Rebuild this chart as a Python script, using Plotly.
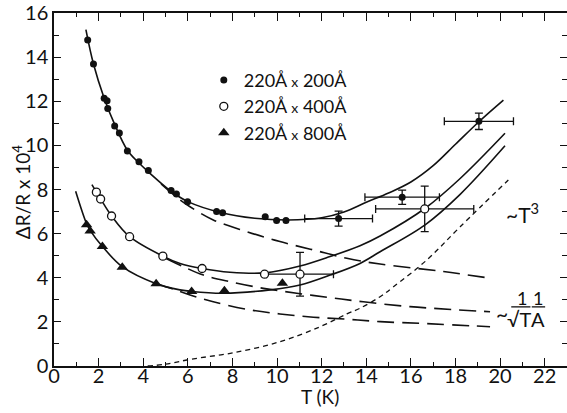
import plotly.graph_objects as go

# ---------------- data ----------------
# 220Å x 200Å (filled circles)
t_200 = [1.51, 1.77, 2.25, 2.38, 2.41, 2.72, 2.93, 3.29, 3.81, 4.23, 5.25, 5.49, 5.99, 7.29, 7.56, 9.47, 9.98, 10.40]
r_200 = [14.78, 13.69, 12.14, 12.02, 11.67, 10.88, 10.56, 9.74, 9.26, 8.86, 7.95, 7.80, 7.45, 7.00, 6.95, 6.76, 6.60, 6.60]
t_200_eb = [12.76, 15.61, 19.05]
r_200_eb = [6.68, 7.65, 11.09]
dt_200_eb = [1.52, 1.67, 1.55]
dr_200_eb = [0.34, 0.32, 0.37]

# 220Å x 400Å (open circles)
t_400 = [1.90, 2.09, 2.58, 3.39, 4.88, 6.64, 9.44]
r_400 = [7.88, 7.57, 6.80, 5.86, 4.98, 4.42, 4.16]
t_400_eb = [11.03, 16.62]
r_400_eb = [4.16, 7.12]
dt_400_eb = [1.50, 2.20]
dr_400_eb = [0.99, 1.03]

# 220Å x 800Å (filled triangles)
t_800 = [1.46, 1.62, 2.17, 3.06, 4.58, 6.17, 7.64, 10.24]
r_800 = [6.40, 6.12, 5.42, 4.48, 3.73, 3.38, 3.41, 3.75]

# solid fitted curves
fit_200_t = [1.43, 1.77, 2.25, 2.72, 3.29, 3.81, 4.23, 5.25, 6.0, 7.5, 9.0, 10.5, 12.0, 13.0, 14.0, 15.0, 16.0, 17.0, 18.0, 19.05, 20.15]
fit_200_r = [15.25, 13.69, 12.14, 10.95, 9.78, 9.20, 8.80, 7.92, 7.45, 6.95, 6.70, 6.62, 6.72, 6.98, 7.42, 7.84, 8.34, 9.08, 10.05, 11.07, 12.05]
fit_400_t = [1.70, 1.90, 2.09, 2.58, 3.39, 4.88, 5.65, 6.64, 7.89, 9.46, 11.03, 12.38, 13.72, 14.62, 16.64, 18.21, 20.22]
fit_400_r = [8.22, 7.88, 7.57, 6.80, 5.86, 4.98, 4.65, 4.42, 4.25, 4.22, 4.53, 4.96, 5.45, 5.89, 7.15, 8.50, 10.55]
fit_800_t = [0.97, 1.46, 1.62, 2.17, 3.06, 4.58, 5.65, 6.17, 7.59, 9.69, 11.03, 12.38, 13.72, 14.62, 16.64, 18.21, 20.22]
fit_800_r = [7.92, 6.45, 6.15, 5.42, 4.50, 3.73, 3.45, 3.38, 3.30, 3.45, 3.67, 4.12, 4.65, 5.18, 6.40, 7.78, 9.98]

# long-dashed ~ 1/sqrt(T) 1/A contributions
dash_200_t = [4.8, 5.5, 6.10, 7.14, 8.64, 10.13, 11.63, 13.13, 14.62, 17.46, 19.55]
dash_200_r = [8.25, 7.65, 7.22, 6.62, 6.09, 5.64, 5.26, 4.88, 4.62, 4.28, 3.98]
dash_400_t = [5.0, 5.8, 6.70, 7.89, 9.39, 10.88, 12.38, 13.87, 15.96, 19.55]
dash_400_r = [4.88, 4.50, 4.12, 3.82, 3.52, 3.30, 3.10, 2.91, 2.69, 2.46]
dash_800_t = [4.6, 5.3, 6.10, 7.14, 8.64, 10.13, 11.63, 13.13, 14.62, 16.71, 19.55]
dash_800_r = [3.73, 3.50, 3.22, 2.91, 2.57, 2.36, 2.21, 2.12, 2.01, 1.92, 1.78]

# short-dashed ~ T^3 contribution
t3_t = [4.2, 5.0, 6.1, 8.04, 10.13, 11.93, 13.13, 13.72, 14.62, 15.22, 16.71, 18.21, 20.37]
t3_r = [0.0, 0.08, 0.30, 0.60, 1.10, 1.78, 2.36, 2.62, 3.14, 3.59, 4.80, 6.31, 8.43]

legend_names = ["220Å <span style='font-size:14px'>x</span> 200Å",
                "220Å <span style='font-size:14px'>x</span> 400Å",
                "220Å <span style='font-size:14px'>x</span> 800Å"]

x_ticks = list(range(0, 23, 2))
y_ticks = list(range(0, 17, 2))

# ---------------- figure ----------------
INK = "#111111"
FONT = "Lato"
fig = go.Figure()

for tt, rr in [(fit_200_t, fit_200_r), (fit_400_t, fit_400_r), (fit_800_t, fit_800_r)]:
    fig.add_trace(go.Scatter(x=tt, y=rr, mode="lines", showlegend=False, hoverinfo="skip",
                             line=dict(color=INK, width=1.6, shape="spline", smoothing=1.0)))
for tt, rr in [(dash_200_t, dash_200_r), (dash_400_t, dash_400_r), (dash_800_t, dash_800_r)]:
    fig.add_trace(go.Scatter(x=tt, y=rr, mode="lines", showlegend=False, hoverinfo="skip",
                             line=dict(color=INK, width=1.6, dash="17px,8px", shape="spline", smoothing=1.0)))
fig.add_trace(go.Scatter(x=t3_t, y=t3_r, mode="lines", showlegend=False, hoverinfo="skip",
                         line=dict(color=INK, width=1.3, dash="5px,4px", shape="spline", smoothing=1.0)))

err_style = dict(type="data", color=INK, thickness=1.3, width=4)

# error-bar points
fig.add_trace(go.Scatter(x=t_200_eb, y=r_200_eb, mode="markers", showlegend=False,
                         marker=dict(symbol="circle", size=7, color=INK),
                         error_x=dict(array=dt_200_eb, **err_style),
                         error_y=dict(array=dr_200_eb, **err_style)))
fig.add_trace(go.Scatter(x=t_400_eb, y=r_400_eb, mode="markers", showlegend=False,
                         marker=dict(symbol="circle", size=8, color="white", line=dict(color=INK, width=1.3)),
                         error_x=dict(array=dt_400_eb, **err_style),
                         error_y=dict(array=dr_400_eb, **err_style)))

# main series
fig.add_trace(go.Scatter(x=t_200, y=r_200, mode="markers", name=legend_names[0],
                         marker=dict(symbol="circle", size=7, color=INK)))
fig.add_trace(go.Scatter(x=t_400, y=r_400, mode="markers", name=legend_names[1],
                         marker=dict(symbol="circle", size=8, color="white", line=dict(color=INK, width=1.3))))
fig.add_trace(go.Scatter(x=t_800, y=r_800, mode="markers", name=legend_names[2],
                         marker=dict(symbol="triangle-up", size=10, color=INK)))

axis_common = dict(showgrid=False, zeroline=False, showline=True, linecolor=INK, linewidth=1.5,
                   ticks="inside", tickcolor=INK, tickwidth=1.3, mirror="allticks", automargin=False,
                   tickfont=dict(family=FONT, size=20, color=INK))
fig.update_xaxes(range=[0, 23], tickvals=x_ticks, ticklen=8, ticklabelstandoff=-9,
                 minor=dict(dtick=1, ticks="inside", ticklen=4, tickcolor=INK, tickwidth=1.2),
                 **axis_common)
fig.update_yaxes(range=[0, 16], tickvals=y_ticks, ticklen=7,
                 minor=dict(dtick=1, ticks="inside", ticklen=5, tickcolor=INK, tickwidth=1.2),
                 **axis_common)

ann_font = dict(family=FONT, size=21, color=INK)
annotations = [
    dict(text="T (K)", xref="paper", yref="paper", x=0.5185, y=-0.086, xanchor="center", yanchor="middle",
         showarrow=False, font=dict(family=FONT, size=19, color=INK)),
    dict(text="ΔR/R x 10<sup>4</sup>", xref="paper", yref="paper", x=-0.062, y=0.493, textangle=-90,
         xanchor="center", yanchor="middle", showarrow=False, font=dict(family=FONT, size=19, color=INK)),
    dict(text="~T<sup>3</sup>", x=21.0, y=6.95, xanchor="center", yanchor="middle", showarrow=False, font=ann_font),
    dict(text="~", x=20.08, y=2.36, xanchor="center", yanchor="middle", showarrow=False,
         font=dict(family=FONT, size=21, color=INK)),
    dict(text="1", x=20.99, y=3.08, xanchor="center", yanchor="middle", showarrow=False,
         font=dict(family=FONT, size=18, color=INK)),
    dict(text="1", x=21.72, y=3.08, xanchor="center", yanchor="middle", showarrow=False,
         font=dict(family=FONT, size=18, color=INK)),
    dict(text="√T", x=20.87, y=2.15, xanchor="center", yanchor="middle", showarrow=False,
         font=dict(family=FONT, size=20, color=INK)),
    dict(text="A", x=21.72, y=2.15, xanchor="center", yanchor="middle", showarrow=False,
         font=dict(family=FONT, size=20, color=INK)),
]
shapes = [
    dict(type="line", x0=20.5, x1=21.36, y0=2.68, y1=2.68, line=dict(color=INK, width=1.3)),
    dict(type="line", x0=21.42, x1=22.02, y0=2.68, y1=2.68, line=dict(color=INK, width=1.3)),
]

fig.update_layout(
    width=567, height=413,
    margin=dict(l=54, r=0, t=13, b=47, pad=0),
    paper_bgcolor="white", plot_bgcolor="white",
    font=dict(family=FONT, color=INK),
    legend=dict(x=0.292, y=0.862, xanchor="left", yanchor="top", bgcolor="rgba(0,0,0,0)",
                font=dict(family=FONT, size=18, color=INK), tracegroupgap=0, itemwidth=30),
    annotations=annotations, shapes=shapes,
)

fig.write_html("out.html", config={"displayModeBar": False},
               post_script="document.body.style.margin='0px';document.body.style.overflow='hidden';")
